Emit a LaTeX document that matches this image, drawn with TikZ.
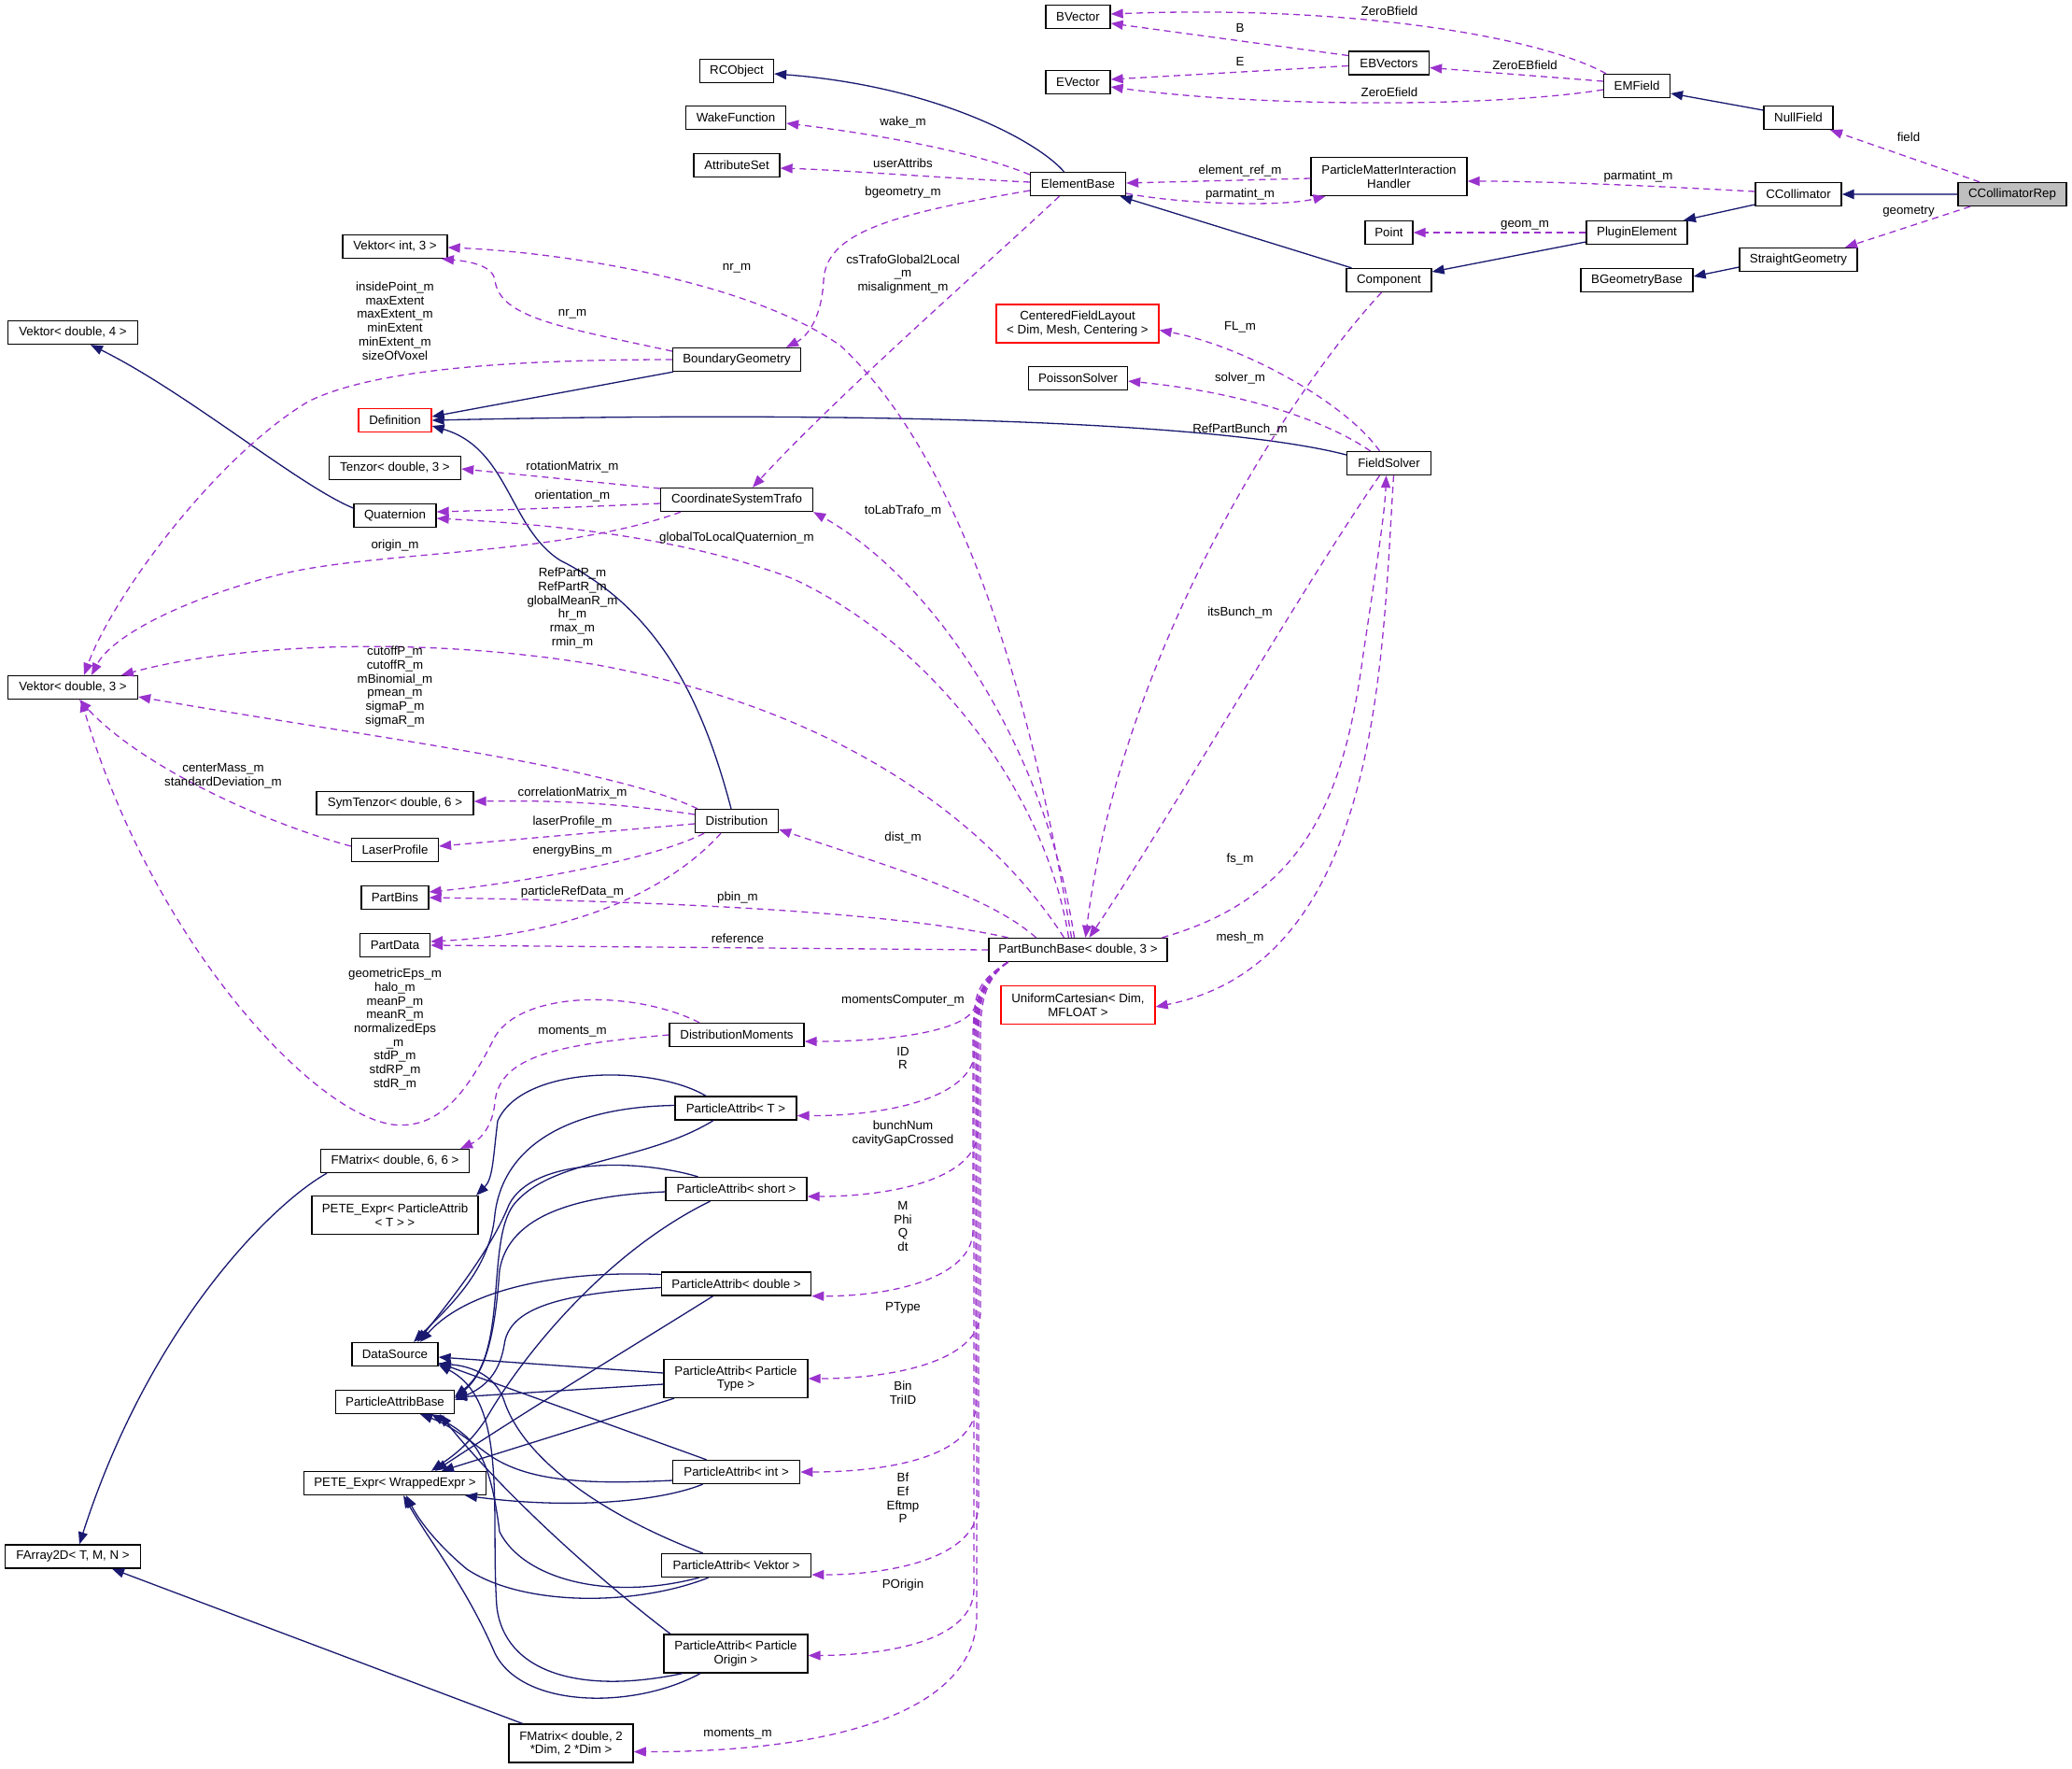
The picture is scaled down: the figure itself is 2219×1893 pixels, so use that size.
\documentclass[tikz,border=0pt]{standalone}
\usepackage{fontspec}
\setmainfont{Liberation Sans}
\usetikzlibrary{arrows.meta}
\definecolor{inhblue}{HTML}{191970}
\definecolor{usepurple}{HTML}{9A32CD}
\definecolor{mainedge}{HTML}{5A5A9C}
\definecolor{curclass}{HTML}{BFBFBF}

\begin{document}
\begin{tikzpicture}[x=1pt, y=-1pt,
    every node/.style={font=\fontsize{13.3}{14.7}\selectfont},
    cls/.style={draw, line width=1.3pt, fill=white, minimum height=25pt, inner sep=2pt, align=center},
    cls2/.style={cls, minimum height=41pt},
    tmpl/.style={draw=red},
    inh/.style={draw=inhblue, line width=1.3pt, -{Triangle[length=13pt,width=10pt]}},
    use/.style={draw=usepurple, line width=1.3pt, dash pattern=on 7pt off 5pt, -{Triangle[length=13pt,width=10pt]}},
    lbl/.style={align=center, inner sep=0pt}]
  \useasboundingbox (0,0) rectangle (2219,1893);

  % far left column
  \node[cls, minimum width=139pt] (vd4) at (78,356) {Vektor< double, 4 >};
  \node[cls, minimum width=139pt] (vd3) at (78,736) {Vektor< double, 3 >};
  \node[cls, minimum width=145pt] (farr) at (78,1666.5) {FArray2D< T, M, N >};

  % left column
  \node[cls, minimum width=112pt] (vi3) at (423,264) {Vektor< int, 3 >};
  \node[cls, tmpl, minimum width=78pt] (defn) at (423,450) {Definition};
  \node[cls, minimum width=141pt] (tenz) at (423,501) {Tenzor< double, 3 >};
  \node[cls, minimum width=88pt] (quat) at (423,552) {Quaternion};
  \node[cls, minimum width=168pt] (symt) at (423,860) {SymTenzor< double, 6 >};
  \node[cls, minimum width=93pt] (laser) at (423,910) {LaserProfile};
  \node[cls, minimum width=72pt] (pbins) at (423,961) {PartBins};
  \node[cls, minimum width=75pt] (pdata) at (423,1012) {PartData};
  \node[cls, minimum width=159pt] (fm66) at (423,1243) {FMatrix< double, 6, 6 >};
  \node[cls2, minimum width=178pt] (petepa) at (423,1301) {PETE\_Expr< ParticleAttrib\\< T > >};
  \node[cls, minimum width=92pt] (dsrc) at (423,1450) {DataSource};
  \node[cls, minimum width=127pt] (pabase) at (423,1501) {ParticleAttribBase};
  \node[cls, minimum width=195pt] (petewe) at (423,1588) {PETE\_Expr< WrappedExpr >};

  % middle column
  \node[cls, minimum width=79pt] (rcobj) at (789,76) {RCObject};
  \node[cls, minimum width=107pt] (wakef) at (788,126) {WakeFunction};
  \node[cls, minimum width=92pt] (attrs) at (789,177) {AttributeSet};
  \node[cls, minimum width=137pt] (bgeom) at (789,385) {BoundaryGeometry};
  \node[cls, minimum width=163pt] (cstrafo) at (789,535) {CoordinateSystemTrafo};
  \node[cls, minimum width=89pt] (distr) at (789,879) {Distribution};
  \node[cls, minimum width=144pt] (dmom) at (789,1108) {DistributionMoments};
  \node[cls, minimum width=130pt] (paT) at (788,1186.5) {ParticleAttrib< T >};
  \node[cls, minimum width=151pt] (pashort) at (788.5,1273) {ParticleAttrib< short >};
  \node[cls, minimum width=160pt] (padouble) at (788.6,1374.5) {ParticleAttrib< double >};
  \node[cls2, minimum width=154pt] (patype) at (788,1476) {ParticleAttrib< Particle\\Type >};
  \node[cls, minimum width=136pt] (paint) at (788.6,1576) {ParticleAttrib< int >};
  \node[cls, minimum width=160pt] (pavek) at (788.6,1676) {ParticleAttrib< Vektor >};
  \node[cls2, minimum width=154pt] (paorig) at (788,1770.5) {ParticleAttrib< Particle\\Origin >};
  \node[cls2, minimum width=133pt] (fm2d) at (611.6,1866.5) {FMatrix< double, 2\\*Dim, 2 *Dim >};

  % right-middle column
  \node[cls, minimum width=69pt] (bvec) at (1154.5,18) {BVector};
  \node[cls, minimum width=69pt] (evec) at (1154.5,88) {EVector};
  \node[cls, minimum width=102pt] (elem) at (1154.5,197) {ElementBase};
  \node[cls2, tmpl, minimum width=174pt] (cfl) at (1154,346.5) {CenteredFieldLayout\\< Dim, Mesh, Centering >};
  \node[cls, minimum width=106pt] (poiss) at (1154.5,405) {PoissonSolver};
  \node[cls, minimum width=191pt] (pbb) at (1154.5,1017) {PartBunchBase< double, 3 >};
  \node[cls2, tmpl, minimum width=165pt] (ucart) at (1154.5,1076) {UniformCartesian< Dim,\\MFLOAT >};

  % right columns
  \node[cls, minimum width=86pt] (ebvec) at (1487.5,67.5) {EBVectors};
  \node[cls2, minimum width=167pt] (pmih) at (1487.5,189) {ParticleMatterInteraction\\Handler};
  \node[cls, minimum width=51pt] (point) at (1487.5,249) {Point};
  \node[cls, minimum width=91pt] (comp) at (1487.5,300) {Component};
  \node[cls, minimum width=90pt] (fsolv) at (1487.5,496) {FieldSolver};
  \node[cls, minimum width=71pt] (emf) at (1753,92) {EMField};
  \node[cls, minimum width=108pt] (plugin) at (1753,249) {PluginElement};
  \node[cls, minimum width=120pt] (bgbase) at (1753,300) {BGeometryBase};
  \node[cls, minimum width=74pt] (nullf) at (1926,126) {NullField};
  \node[cls, minimum width=92pt] (ccoll) at (1926,208) {CCollimator};
  \node[cls, minimum width=126pt] (sgeom) at (1926,278) {StraightGeometry};
  \node[cls, fill=curclass, minimum width=116pt] (crep) at (2155,208) {CCollimatorRep};

  % inheritance
  \draw[draw=mainedge, line width=2.5pt, -{Triangle[length=13pt,width=10pt,color=inhblue]}] (crep.west) -- (ccoll.east);
  \draw[inh] ([yshift=8pt]nullf.west) -- ([yshift=-8pt]emf.east);
  \draw[inh] ([yshift=-11pt]ccoll.west) -- ([xshift=50pt]plugin.north);
  \draw[inh] ([yshift=-10pt]plugin.west) -- ([yshift=9pt]comp.east);
  \draw[inh] ([xshift=-40pt]comp.north) -- ([xshift=45pt]elem.south);
  \draw[inh] ([yshift=-8pt]sgeom.west) -- ([yshift=4pt]bgbase.east);
  \draw[inh] ([xshift=-15pt]elem.north) .. controls (1110,150) and (1000,92) .. ([yshift=-3pt]rcobj.east);
  \draw[inh] ([xshift=-68pt]bgeom.south) -- ([yshift=4pt]defn.east);
  \draw[inh] ([yshift=9pt]fsolv.west) .. controls (1300,450) and (900,440) .. (defn.east);
  \draw[inh] ([xshift=-6pt]distr.north) .. controls (750,740) and (700,650) .. (600,600) .. controls (545,565) and (545,480) .. ([yshift=-6pt]defn.east);
  \draw[inh] ([yshift=8pt]quat.west) .. controls (320,520) and (200,420) .. ([xshift=19pt]vd4.south);
  \draw[inh] ([xshift=-73pt]fm66.south) .. controls (290,1290) and (160,1420) .. ([xshift=7pt]farr.north);
  \draw[inh] ([xshift=-52pt]fm2d.north) -- ([xshift=42pt]farr.south);

  % particle attributes
  \draw[inh] ([xshift=-32pt]paT.north) .. controls (700,1140) and (560,1140) .. (533,1200) .. controls (528,1240) and (528,1262) .. ([xshift=87pt]petepa.north);
  \draw[inh] ([yshift=3pt]paT.west) .. controls (620,1185) and (540,1220) .. (530,1300) .. controls (525,1360) and (480,1400) .. ([xshift=20pt]dsrc.north);
  \draw[inh] ([xshift=-24pt]paT.south) .. controls (690,1245) and (590,1240) .. (550,1290) .. controls (520,1330) and (545,1450) .. ([yshift=6pt]pabase.east);
  \draw[inh] ([xshift=-41pt]pashort.north) .. controls (680,1240) and (570,1240) .. (545,1290) .. controls (525,1340) and (480,1395) .. ([xshift=24pt]dsrc.north);
  \draw[inh] ([yshift=-3pt]pashort.west) .. controls (620,1280) and (545,1300) .. (535,1360) .. controls (530,1430) and (520,1470) .. ([yshift=4pt]pabase.east);
  \draw[inh] ([xshift=-28pt]pashort.south) .. controls (650,1340) and (560,1450) .. (520,1520) .. controls (500,1550) and (480,1562) .. ([xshift=39pt]petewe.north);
  \draw[inh] ([yshift=10pt]padouble.west) .. controls (600,1360) and (500,1380) .. ([xshift=27pt]dsrc.north);
  \draw[inh] ([yshift=-4pt]padouble.west) .. controls (600,1385) and (545,1400) .. (540,1440) .. controls (535,1470) and (520,1485) .. ([yshift=2pt]pabase.east);
  \draw[inh] ([xshift=-25pt]padouble.south) .. controls (680,1440) and (580,1500) .. ([xshift=43pt]petewe.north);
  \draw[inh] ([yshift=6pt]patype.west) -- ([yshift=-3pt]dsrc.east);
  \draw[inh] ([yshift=-6pt]patype.west) -- ([yshift=5pt]pabase.east);
  \draw[inh] ([xshift=-66pt]patype.south) -- ([xshift=50pt]petewe.north);
  \draw[inh] ([xshift=-32pt]paint.north) -- ([yshift=4pt]dsrc.south east);
  \draw[inh] ([yshift=-9pt]paint.west) .. controls (620,1590) and (560,1585) .. (520,1555) .. controls (500,1540) and (480,1525) .. ([xshift=27pt]pabase.south);
  \draw[inh] ([xshift=-36pt]paint.south) .. controls (700,1610) and (600,1615) .. ([xshift=75pt]petewe.south);
  \draw[inh] ([xshift=-36pt]pavek.north) .. controls (640,1620) and (560,1560) .. (540,1500) .. controls (530,1470) and (500,1462) .. ([yshift=3pt]dsrc.south east);
  \draw[inh] ([xshift=-40pt]pavek.south) .. controls (650,1715) and (560,1690) .. (535,1640) .. controls (525,1560) and (510,1540) .. ([xshift=39pt]pabase.south);
  \draw[inh] ([xshift=-30pt]pavek.south) .. controls (680,1720) and (560,1720) .. (500,1680) .. controls (470,1655) and (450,1630) .. ([xshift=12pt]petewe.south);
  \draw[inh] ([xshift=-70pt]paorig.north) .. controls (640,1690) and (540,1600) .. ([xshift=48pt]pabase.south);
  \draw[inh] ([xshift=-57pt]paorig.south) .. controls (620,1815) and (540,1790) .. (532,1720) .. controls (525,1620) and (545,1500) .. ([yshift=2pt]dsrc.south east);
  \draw[inh] ([xshift=-38pt]paorig.south) .. controls (680,1830) and (560,1830) .. (530,1770) .. controls (500,1700) and (460,1650) .. ([xshift=9pt]petewe.south);

  % field members, top right
  \draw[use] ([xshift=-33pt]emf.north) .. controls (1650,40) and (1450,5) .. ([yshift=3pt]bvec.east);
  \draw[use] ([yshift=8pt]ebvec.west) -- ([yshift=-7pt]bvec.east);
  \draw[use] ([yshift=-3pt]ebvec.west) -- ([yshift=3pt]evec.east);
  \draw[use] ([yshift=5pt]emf.west) -- ([yshift=-5pt]ebvec.east);
  \draw[use] ([yshift=-4pt]emf.west) .. controls (1600,115) and (1350,115) .. ([yshift=-5pt]evec.east);
  \draw[use] ([xshift=-35pt]crep.north) -- ([xshift=34pt]nullf.south);
  \draw[use] ([xshift=-45pt]crep.south) -- ([xshift=50pt]sgeom.north);
  \draw[use] ([yshift=3pt]ccoll.west) .. controls (1750,198) and (1650,194) .. ([yshift=-5pt]pmih.east);
  \draw[use] ([yshift=-2pt]pmih.west) -- ([yshift=1pt]elem.east);
  \draw[use] ([yshift=-10pt]elem.east) .. controls (1260,218) and (1370,222) .. ([xshift=-68pt]pmih.south);
  \draw[use] (plugin.west) -- (point.east);
  \draw[use] ([yshift=10pt]elem.west) .. controls (1050,165) and (950,145) .. ([yshift=-6pt]wakef.east);
  \draw[use] ([yshift=2pt]elem.west) .. controls (1000,190) and (900,182) .. ([yshift=-3pt]attrs.east);
  \draw[use] ([yshift=-7pt]elem.west) .. controls (950,230) and (885,250) .. (882,300) .. controls (880,340) and (865,360) .. ([xshift=53pt]bgeom.north);
  \draw[use] ([xshift=-20pt]elem.south) .. controls (1060,280) and (900,420) .. ([xshift=17pt]cstrafo.north);

  % field solver
  \draw[use] ([xshift=-10pt]fsolv.north) .. controls (1440,430) and (1330,370) .. ([yshift=-7pt]cfl.east);
  \draw[use] ([xshift=-20pt]fsolv.north) .. controls (1420,450) and (1330,420) .. ([yshift=-3pt]poiss.east);
  \draw[use] ([xshift=-8pt]comp.south) .. controls (1380,420) and (1200,700) .. ([xshift=8pt]pbb.north);
  \draw[use] ([xshift=-10pt]fsolv.south) .. controls (1400,620) and (1250,880) .. ([xshift=12pt]pbb.north);
  \draw[use] ([xshift=90pt]pbb.north) .. controls (1400,960) and (1440,850) .. (1460,700) .. controls (1475,600) and (1483,550) .. ([xshift=-3pt]fsolv.south);
  \draw[use] ([xshift=5pt]fsolv.south) .. controls (1480,700) and (1480,1030) .. ([yshift=-2pt]ucart.east);

  % geometry and vectors
  \draw[use] ([yshift=9pt]bgeom.west) .. controls (600,350) and (535,340) .. (530,300) .. controls (528,285) and (505,280) .. ([xshift=50pt]vi3.south);
  \draw[use] ([xshift=-7pt]pbb.north) .. controls (1110,780) and (1040,500) .. (900,370) .. controls (800,300) and (600,270) .. ([yshift=-1pt]vi3.east);
  \draw[use] (bgeom.west) .. controls (550,385) and (400,395) .. (330,430) .. controls (230,490) and (120,640) .. ([xshift=12pt]vd3.north);
  \draw[use] ([yshift=12pt]cstrafo.west) -- ([yshift=-1pt]tenz.east);
  \draw[use] ([yshift=-4pt]cstrafo.west) .. controls (620,543) and (540,546) .. ([yshift=4pt]quat.east);
  \draw[use] ([xshift=-60pt]cstrafo.south) .. controls (600,595) and (400,590) .. (300,615) .. controls (200,640) and (120,680) .. ([xshift=20pt]vd3.north);
  \draw[use] ([xshift=-10pt]pbb.north) .. controls (1120,850) and (1000,690) .. (850,620) .. controls (720,570) and (560,560) .. ([yshift=-3pt]quat.east);
  \draw[use] ([xshift=-4pt]pbb.north) .. controls (1120,800) and (1000,620) .. (cstrafo.south east);
  \draw[use] ([xshift=-15pt]pbb.north) .. controls (1060,880) and (900,760) .. (640,712) .. controls (450,680) and (250,690) .. ([xshift=52pt]vd3.north);

  % distribution
  \draw[use] ([xshift=-42pt]distr.north) .. controls (650,820) and (400,790) .. ([yshift=-10pt]vd3.east);
  \draw[use] ([yshift=4pt]laser.west) .. controls (280,880) and (150,820) .. ([xshift=7pt]vd3.south);
  \draw[use] ([xshift=-40pt]dmom.north) .. controls (680,1060) and (560,1060) .. (530,1110) .. controls (500,1170) and (470,1210) .. (420,1204) .. controls (330,1190) and (160,1000) .. ([xshift=9pt]vd3.south);
  \draw[use] (dmom.west) .. controls (600,1118) and (535,1130) .. (530,1180) .. controls (528,1205) and (515,1220) .. ([xshift=70pt]fm66.north);
  \draw[use] ([yshift=7pt]distr.west) .. controls (650,858) and (580,857) .. ([yshift=2pt]symt.east);
  \draw[use] ([yshift=-3pt]distr.west) -- ([yshift=4pt]laser.east);
  \draw[use] ([xshift=-35pt]distr.south) .. controls (700,920) and (560,945) .. ([yshift=6pt]pbins.east);
  \draw[use] ([xshift=-17pt]distr.south) .. controls (720,950) and (620,1000) .. ([yshift=4pt]pdata.east);
  \draw[use] ([xshift=-75pt]pbb.north) .. controls (950,975) and (700,965) .. (pbins.east);
  \draw[use] (pbb.west) -- (pdata.east);
  \draw[use] ([xshift=-45pt]pbb.north) .. controls (1060,960) and (960,930) .. ([yshift=-9pt]distr.east);

  % bunch attributes
  \draw[use] ([xshift=-75pt]pbb.south) .. controls (1050,1048) and (1046,1062) .. (1044,1078) .. controls (1035,1105) and (950,1115) .. ([yshift=-7pt]dmom.east);
  \draw[use] ([xshift=-75pt]pbb.south) .. controls (1048,1050) and (1044,1080) .. (1044,1110) -- (1044,1125) .. controls (1043,1175) and (950,1195) .. ([yshift=-8pt]paT.east);
  \draw[use] ([xshift=-75pt]pbb.south) .. controls (1050,1050) and (1047,1080) .. (1047,1110) -- (1047,1212) .. controls (1046,1262) and (955,1281) .. ([yshift=-8pt]pashort.east);
  \draw[use] ([xshift=-75pt]pbb.south) .. controls (1046,1050) and (1042,1080) .. (1042,1110) -- (1042,1318) .. controls (1041,1368) and (955,1388) .. (padouble.south east);
  \draw[use] ([xshift=-75pt]pbb.south) .. controls (1052,1050) and (1050,1080) .. (1050,1110) -- (1050,1406) .. controls (1048,1458) and (955,1476) .. (patype.east);
  \draw[use] ([xshift=-75pt]pbb.south) .. controls (1048,1050) and (1045,1080) .. (1045,1110) -- (1045,1505) .. controls (1044,1560) and (950,1576) .. (paint.east);
  \draw[use] ([xshift=-75pt]pbb.south) .. controls (1050,1050) and (1048,1080) .. (1048,1110) -- (1048,1612) .. controls (1046,1668) and (955,1686) .. ([yshift=-10pt]pavek.east);
  \draw[use] ([xshift=-75pt]pbb.south) .. controls (1046,1050) and (1043,1080) .. (1043,1110) -- (1043,1702) .. controls (1042,1755) and (955,1772) .. ([yshift=-2pt]paorig.east);
  \draw[use] ([xshift=-75pt]pbb.south) .. controls (1048,1050) and (1046,1080) .. (1046,1110) -- (1046,1730) .. controls (1046,1830) and (900,1876) .. ([yshift=-9pt]fm2d.east);

  % edge labels
  \node[lbl] (lzerob) at (1488,11.4) {ZeroBfield};
  \node[lbl] (lb) at (1328,30) {B};
  \node[lbl] (le) at (1328,66) {E};
  \node[lbl] (lzeroeb) at (1633,70) {ZeroEBfield};
  \node[lbl] (lzeroe) at (1488,99) {ZeroEfield};
  \node[lbl] (lfield) at (2044,147) {field};
  \node[lbl] (lgeometry) at (2044,227) {geometry};
  \node[lbl] (lparmat) at (1754.5,188.6) {parmatint\_m};
  \node[lbl] (lelemref) at (1328,183) {element\_ref\_m};
  \node[lbl] (lparmatb) at (1328,208) {parmatint\_m};
  \node[lbl] (lgeom) at (1633,241) {geom\_m};
  \node[lbl] (lwake) at (967,131) {wake\_m};
  \node[lbl] (luser) at (967,175) {userAttribs};
  \node[lbl] (lbgeom) at (967,206.5) {bgeometry\_m};
  \node[lbl] (lcstrafo) at (967,293.5) {csTrafoGlobal2Local\\\_m\\misalignment\_m};
  \node[lbl] (lnrpbb) at (789,287) {nr\_m};
  \node[lbl] (lnrbg) at (613,336) {nr\_m};
  \node[lbl] (linside) at (423,343.5) {insidePoint\_m\\maxExtent\\maxExtent\_m\\minExtent\\minExtent\_m\\sizeOfVoxel};
  \node[lbl] (lrot) at (613,500) {rotationMatrix\_m};
  \node[lbl] (lorient) at (613,531) {orientation\_m};
  \node[lbl] (llab) at (967,547) {toLabTrafo\_m};
  \node[lbl] (lglobq) at (789,576) {globalToLocalQuaternion\_m};
  \node[lbl] (lorigin) at (423,584) {origin\_m};
  \node[lbl] (lrefp) at (613,651) {RefPartP\_m\\RefPartR\_m\\globalMeanR\_m\\hr\_m\\rmax\_m\\rmin\_m};
  \node[lbl] (lcutoff) at (423,735) {cutoffP\_m\\cutoffR\_m\\mBinomial\_m\\pmean\_m\\sigmaP\_m\\sigmaR\_m};
  \node[lbl] (lcenter) at (239,831) {centerMass\_m\\standardDeviation\_m};
  \node[lbl] (lcorr) at (613,848.6) {correlationMatrix\_m};
  \node[lbl] (llaser) at (613,879.6) {laserProfile\_m};
  \node[lbl] (lenergy) at (613,911) {energyBins\_m};
  \node[lbl] (ldist) at (967,897) {dist\_m};
  \node[lbl] (lprd) at (613,955.5) {particleRefData\_m};
  \node[lbl] (lpbin) at (790,961) {pbin\_m};
  \node[lbl] (lref) at (790,1004.5) {reference};
  \node[lbl] (lgeoeps) at (423,1102) {geometricEps\_m\\halo\_m\\meanP\_m\\meanR\_m\\normalizedEps\\\_m\\stdP\_m\\stdRP\_m\\stdR\_m};
  \node[lbl] (lmomc) at (967,1071.4) {momentsComputer\_m};
  \node[lbl] (lmom) at (613,1105) {moments\_m};
  \node[lbl] (lid) at (967,1133) {ID\\R};
  \node[lbl] (lbunch) at (967,1213.3) {bunchNum\\cavityGapCrossed};
  \node[lbl] (lmass) at (967,1313) {M\\Phi\\Q\\dt};
  \node[lbl] (lptype) at (967,1400) {PType};
  \node[lbl] (lbin) at (967,1491) {Bin\\TriID};
  \node[lbl] (lfields) at (967,1604) {Bf\\Ef\\Eftmp\\P};
  \node[lbl] (lporig) at (967,1697) {POrigin};
  \node[lbl] (lmom2) at (790,1856.4) {moments\_m};
  \node[lbl] (lfl) at (1328,350.6) {FL\_m};
  \node[lbl] (lsolver) at (1328,404.5) {solver\_m};
  \node[lbl] (lrefbunch) at (1328,459.6) {RefPartBunch\_m};
  \node[lbl] (lits) at (1328,656) {itsBunch\_m};
  \node[lbl] (lfs) at (1328,920) {fs\_m};
  \node[lbl] (lmesh) at (1328,1003.7) {mesh\_m};
\end{tikzpicture}
\end{document}
